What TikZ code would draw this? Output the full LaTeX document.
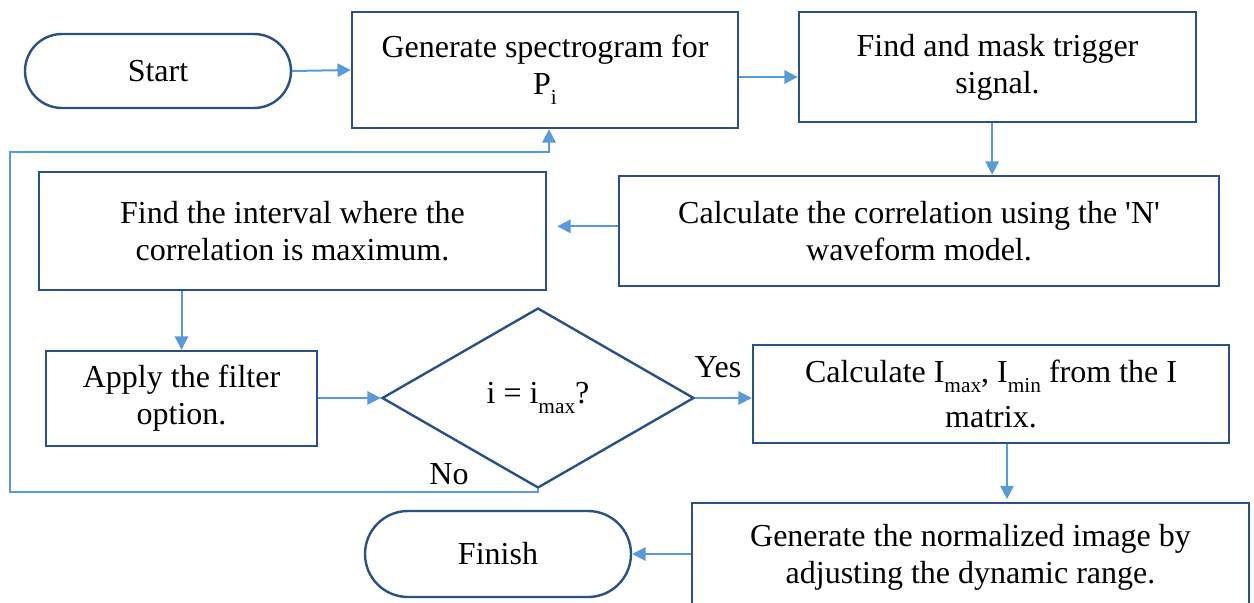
\documentclass[tikz,border=0pt]{standalone}
\usepackage{fontspec}
\setmainfont{Liberation Serif}
\usetikzlibrary{arrows.meta,shapes.geometric,shapes.misc}
\definecolor{boxline}{RGB}{41,82,131}
\definecolor{flowline}{RGB}{91,155,213}
% small, deeply lowered index as set in the flow chart
\newcommand{\lowidx}[1]{\raisebox{-7.5pt}{\fontsize{16}{16}\selectfont #1}}

\begin{document}
\begin{tikzpicture}[x=0.75pt,y=-0.75pt,
  txt/.style={font=\fontsize{24}{27.75}\selectfont, align=center},
  procbox/.style={txt, draw=boxline, line width=1.8pt, rectangle, inner sep=0pt},
  termbox/.style={txt, draw=boxline, line width=1.8pt, rounded rectangle, inner sep=0pt},
  decide/.style={txt, draw=boxline, line width=1.8pt, diamond, inner sep=0pt},
  arr/.style={draw=flowline, line width=1.5pt, -{Triangle[length=10pt,width=10pt]}},
  lbl/.style={txt, inner sep=0pt}
]
\clip (0,0) rectangle (1254,603);

% process steps
\node[termbox, minimum width=199.5pt, minimum height=55.5pt] (start) at (158,71) {Start};
\node[procbox, minimum width=289.5pt, minimum height=87pt] (gen) at (545,70)
  {Generate spectrogram for\\P\lowidx{i}};
\node[procbox, minimum width=297.75pt, minimum height=82.5pt] (mask) at (997.5,67)
  {Find and mask trigger\\signal.};
\node[procbox, minimum width=450pt, minimum height=82.5pt] (corr) at (919,231)
  {Calculate the correlation using the \textquotesingle N\textquotesingle\\waveform model.};
\node[procbox, minimum width=380.25pt, minimum height=88.5pt] (interval) at (292.5,231)
  {Find the interval where the\\correlation is maximum.};
\node[procbox, minimum width=203.25pt, minimum height=71.25pt] (filter) at (181.5,398.5)
  {Apply the filter\\option.};
\node[decide, minimum width=234pt, minimum height=135pt] (check) at (538,398)
  {i = i\lowidx{max}?};
\node[procbox, minimum width=357pt, minimum height=73.5pt] (range) at (991,394)
  {Calculate I\lowidx{max}, I\lowidx{min} from the I\\[5.5pt]matrix.};
\node[procbox, minimum width=417.75pt, minimum height=81pt] (norm) at (970.5,557)
  {Generate the normalized image by\\adjusting the dynamic range.};
\node[termbox, minimum width=199.5pt, minimum height=64.5pt] (finish) at (498,554) {Finish};

% helper points for the connectors
\coordinate (rowA) at (0,77);
\coordinate (loopA) at (10,492);
\coordinate (loopB) at (10,152);
\coordinate (loopC) at (549,152);

% connectors
\draw[arr] (start.east) -- (gen.west);
\draw[arr] (gen.east |- rowA) -- (mask.west |- rowA);
\draw[arr] ([xshift=-4pt]mask.south) -- ([xshift=-4pt]mask.south |- corr.north);
\draw[arr] ([yshift=3.5pt]corr.west) -- ([xshift=7.5pt,yshift=3.5pt]interval.east |- corr.west);
\draw[arr] (interval.south -| filter.north) -- (filter.north);
\draw[arr] (filter.east |- check.west) -- (check.west);
\draw[arr] (check.east) -- (range.west |- check.east);
\draw[arr] ([xshift=12pt]range.south) -- ([xshift=12pt,yshift=2pt]range.south |- norm.north);
\draw[arr] (norm.west |- finish.east) -- (finish.east);
\draw[arr] (check.south) |- (loopA) -- (loopB) -- (loopC) -- (loopC |- gen.south);

% branch labels
\node[lbl] (yes) at (718,367) {Yes};
\node[lbl] (no) at (449,474) {No};
\end{tikzpicture}
\end{document}
